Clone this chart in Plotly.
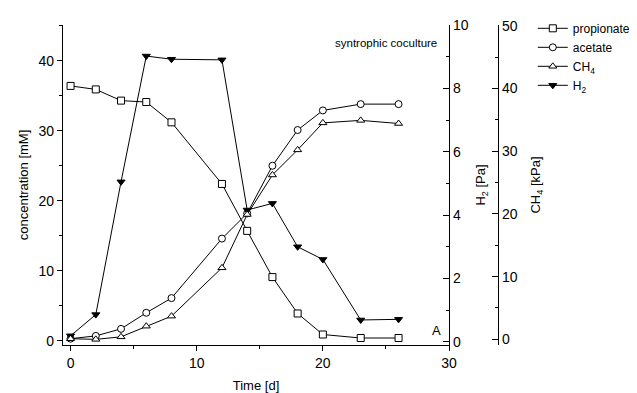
import plotly.graph_objects as go

time_d = [0, 2, 4, 6, 8, 12, 14, 16, 18, 20, 23, 26]
propionate_mM = [36.4, 35.9, 34.3, 34.1, 31.2, 22.4, 15.7, 9.1, 3.9, 0.9, 0.4, 0.4]
acetate_mM = [0.3, 0.7, 1.7, 4.0, 6.1, 14.6, 18.2, 25.0, 30.1, 32.9, 33.8, 33.8]
ch4_kPa = [0.1, 0.0, 0.4, 2.1, 3.7, 11.4, 19.9, 26.2, 30.2, 34.5, 34.9, 34.4]
h2_Pa = [0.19, 0.86, 5.05, 9.02, 8.92, 8.9, 4.16, 4.37, 3.0, 2.6, 0.69, 0.71]

FONT = "Liberation Sans, Arial, sans-serif"
line = dict(color="black", width=1)

def mk(symbol, filled=False):
    return dict(symbol=symbol, size=7, color="black" if filled else "white",
                line=dict(color="black", width=1))

fig = go.Figure()
fig.add_trace(go.Scatter(x=time_d, y=propionate_mM, name="propionate", mode="lines+markers",
                         line=line, marker=mk("square"), yaxis="y"))
fig.add_trace(go.Scatter(x=time_d, y=acetate_mM, name="acetate", mode="lines+markers",
                         line=line, marker=mk("circle"), yaxis="y"))
fig.add_trace(go.Scatter(x=time_d, y=ch4_kPa, name="CH<sub>4</sub>", mode="lines+markers",
                         line=line, marker=mk("triangle-up"), yaxis="y3"))
fig.add_trace(go.Scatter(x=time_d, y=h2_Pa, name="H<sub>2</sub>", mode="lines+markers",
                         line=line, marker=mk("triangle-down", True), yaxis="y2"))

ax_common = dict(showgrid=False, zeroline=False, linecolor="black", linewidth=1.4,
                 tickcolor="black", tickfont=dict(size=14, color="black", family=FONT),
                 automargin=False)
TF = dict(size=13, family=FONT, color="black")

fig.update_layout(
    width=637, height=393,
    margin=dict(l=63, r=139, t=25, b=48, autoexpand=False),
    paper_bgcolor="white", plot_bgcolor="white",
    font=dict(family=FONT, color="black", size=12),
    xaxis=dict(domain=[0, 0.8874], range=[-0.6, 30], showline=True, ticks="outside",
               ticklen=5, dtick=10, tick0=0,
               minor=dict(ticks="outside", ticklen=3, dtick=5, tickcolor="black"),
               title=dict(text="Time [d]", font=TF, standoff=14), **ax_common),
    xaxis2=dict(overlaying="x", matches="x", side="top", anchor="y", showline=True,
                ticks="inside", ticklen=5, dtick=10, tick0=0, showticklabels=False,
                minor=dict(ticks="inside", ticklen=3, dtick=5, tickcolor="black"),
                **ax_common),
    yaxis=dict(range=[-0.6, 45.1], showline=True, ticks="outside", ticklen=5, dtick=10,
               minor=dict(ticks="outside", ticklen=3, dtick=5, tickcolor="black"),
               title=dict(text="concentration [mM]", font=TF, standoff=6),
               **ax_common),
    yaxis2=dict(overlaying="y", side="right", anchor="x", range=[-0.1, 10.0], showline=True,
                ticks="inside", ticklen=6, dtick=2,
                minor=dict(ticks="inside", ticklen=3, dtick=1, tickcolor="black"),
                title=dict(text="H<sub>2</sub> [Pa]", font=TF, standoff=8),
                **ax_common),
    yaxis3=dict(overlaying="y", side="right", anchor="free", position=1.0,
                range=[-0.9, 50.1], showline=True,
                ticks="inside", ticklen=6, dtick=10,
                minor=dict(ticks="inside", ticklen=3, dtick=5, tickcolor="black"),
                title=dict(text="CH<sub>4</sub> [kPa]", font=TF, standoff=14),
                **ax_common),
    legend=dict(x=1.08, y=1.035, xanchor="left", yanchor="top", bgcolor="rgba(0,0,0,0)",
                font=dict(size=12, family=FONT), tracegroupgap=0, itemwidth=30),
    showlegend=True,
)

fig.add_annotation(text="syntrophic coculture", x=29.2, y=42.6, xref="x", yref="y",
                   xanchor="right", yanchor="middle", showarrow=False,
                   font=dict(size=11.5, family=FONT))
fig.add_annotation(text="A", x=29.0, y=1.5, xref="x", yref="y",
                   xanchor="center", yanchor="middle", showarrow=False,
                   font=dict(size=13, family=FONT))

fig.write_html("out.html")
